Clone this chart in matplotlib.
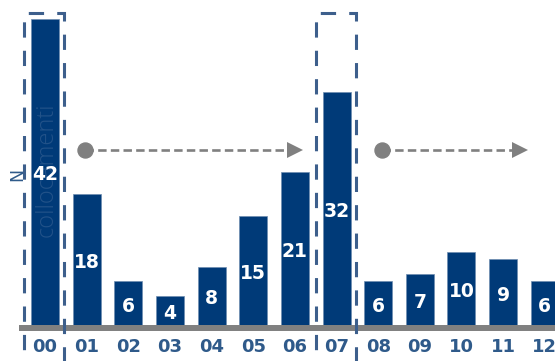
import matplotlib
matplotlib.use("Agg")
import matplotlib.pyplot as plt
from matplotlib.patches import Rectangle

# Data
categories = ["00", "01", "02", "03", "04", "05", "06", "07", "08", "09", "10", "11", "12"]
values = [42, 18, 6, 4, 8, 15, 21, 32, 6, 7, 10, 9, 6]
highlighted = ["00", "07"]
y_label_initial = "N"
y_label_rest = "collocamenti"

BAR_COLOR = "#003a78"
TEXT_BLUE = "#2f5a8a"
DASH_BLUE = "#3d5f8c"
GREY = "#808080"

fig = plt.figure(figsize=(5.55, 3.61), dpi=100)
ax = fig.add_axes([0, 0, 1, 1])
ax.set_xlim(-1.080, 12.245)
ax.set_ylim(-4.94, 44.58)
ax.axis("off")

x = list(range(len(categories)))
ax.bar(x, values, width=0.672, color=BAR_COLOR, edgecolor="#6f8db0",
       linewidth=0.5, zorder=2)

# value labels centred inside each bar
for xi, v in zip(x, values):
    ax.text(xi, v / 2 - 0.4, str(v), color="white", fontsize=13.5,
            fontweight="bold", family="DejaVu Sans", ha="center", va="center",
            zorder=4)

# category labels under the baseline
for xi, c in zip(x, categories):
    ax.text(xi, -3.0, c, color=TEXT_BLUE, fontsize=13, fontweight="bold",
            family="DejaVu Sans", ha="center", va="center", zorder=4)

# baseline
ax.plot([-0.62, 12.5], [-0.41, -0.41], color=GREY, lw=4.3,
        solid_capstyle="butt", zorder=3)

# dashed frames around the highlighted categories
for c in highlighted:
    i = categories.index(c)
    rect = Rectangle((i - 0.5, -6), 0.96, 48.8, fill=False,
                     edgecolor=DASH_BLUE, lw=2.2, linestyle=(0, (5, 4.3)),
                     zorder=3, clip_on=True)
    ax.add_patch(rect)

# dashed arrows between the frames
arrows = [(0.96, 6.19), (8.1, 11.6)]
for x0, x1 in arrows:
    ax.plot([x0, x1 - 0.3], [24, 24], color=GREY, lw=1.9,
            linestyle=(0, (3.2, 1.6)), zorder=3)
    ax.plot([x0], [24], marker="o", ms=10.8, color=GREY, zorder=4)
    ax.plot([x1 - 0.19], [24], marker=">", ms=11, color=GREY,
            markeredgewidth=0, zorder=4)

# axis title in two tones
ax.text(-0.66, 20.6, y_label_initial, rotation=90, color=TEXT_BLUE,
        fontsize=12.5, family="DejaVu Sans", ha="center", va="center", zorder=3)
ax.text(0.03, 21.3, y_label_rest, rotation=90, color="#5a7aa5", alpha=0.38,
        fontsize=17, family="Open Sans", fontweight="light",
        ha="center", va="center", zorder=3)

fig.savefig("out.png", dpi=100)
